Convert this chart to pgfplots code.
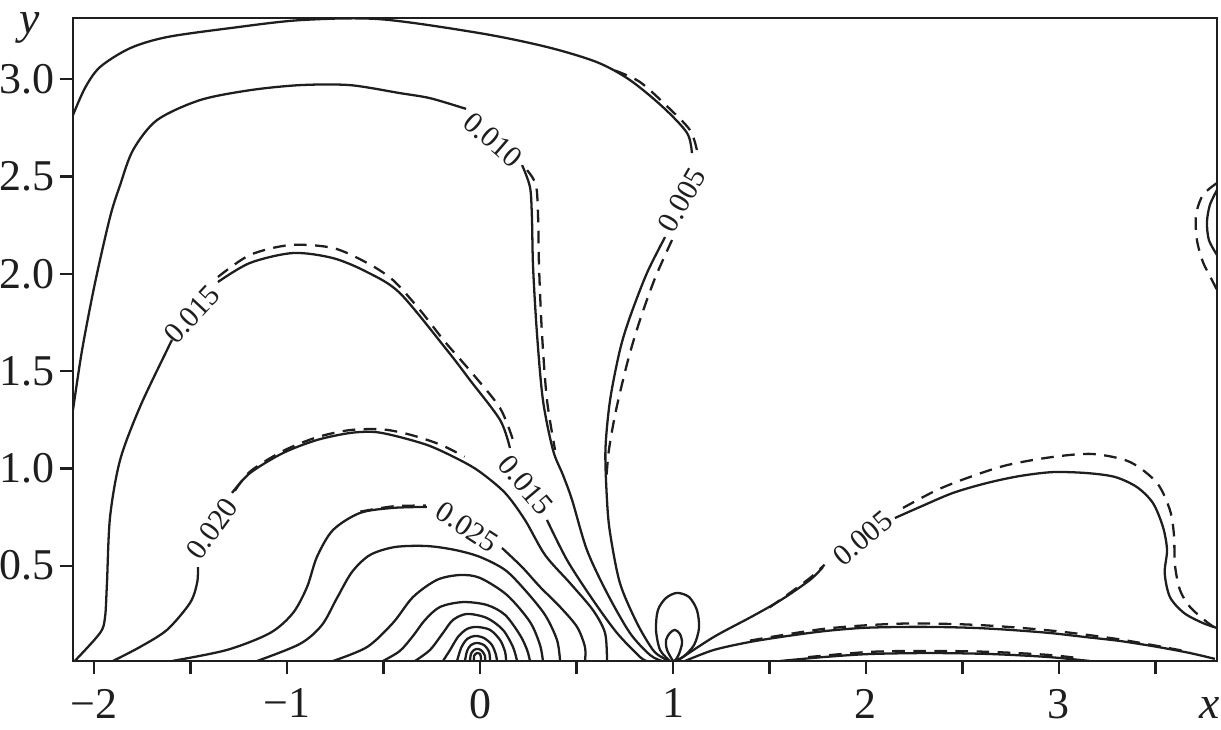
\documentclass[border=0pt]{standalone}
\usepackage{pgfplots}
\pgfplotsset{compat=1.18}
\usepackage{fontspec}
\setmainfont{Liberation Serif}
\definecolor{ink}{HTML}{1E1E1E}
\tikzset{lbl/.style={font=\fontsize{8.5}{9}\selectfont, text=ink, inner sep=0pt},
         dsh/.style={dash pattern=on 3.6pt off 2.4pt}}
\begin{document}
\begin{tikzpicture}
\path[use as bounding box] (-0.73,-0.68) rectangle (11.48,6.61);
\begin{axis}[
  width=11.44cm, height=6.43cm, scale only axis,
  xmin=-2.109, xmax=3.819, ymin=0.01, ymax=3.315,
  axis line style={line width=0.65pt, ink},
  xtick={-2,-1.5,-1,-0.5,0,0.5,1,1.5,2,2.5,3,3.5},
  xticklabels={−2,,−1,,0,,1,,2,,3,},
  ytick={0.5,1,1.5,2,2.5,3},
  yticklabels={0.5,1.0,1.5,2.0,2.5,3.0},
  tick align=outside, xtick pos=bottom, ytick pos=left,
  major tick length=0.13cm,
  tick style={line width=0.65pt, ink},
  ticklabel style={font=\fontsize{12.5}{14}\selectfont, text=ink, inner sep=1.5pt},
  xticklabel style={yshift=-0.09cm},
  clip=true,
  cycle list={{ink, solid, mark=none}},
  no markers,
  every axis plot/.append style={line width=0.65pt, ink, smooth, tension=0.5},
]
% ---------- 0.005 (outer) ----------
\addplot coordinates {(-2.109,2.816) (-2.047,2.955) (-1.969,3.063) (-1.813,3.160) (-1.622,3.217) (-1.295,3.263) (-0.933,3.304) (-0.518,3.309) (0,3.237) (0.347,3.166) (0.606,3.088) (0.777,2.996) (0.948,2.857) (1.073,2.724) (1.098,2.621)};
\addplot coordinates {(0.959,2.189) (0.865,2.004) (0.777,1.778) (0.725,1.608) (0.674,1.351) (0.650,1.095) (0.658,0.838) (0.674,0.668) (0.725,0.411) (0.813,0.206) (0.896,0.067) (0.948,0.026) (0.984,0.01)};
\addplot[dsh] coordinates {(0.70,3.045) (0.829,2.986) (0.974,2.857) (1.088,2.739) (1.124,2.636)};
\addplot[dsh] coordinates {(0.995,2.174) (0.907,1.978) (0.829,1.763) (0.767,1.557) (0.705,1.300) (0.668,1.095) (0.655,0.95)};
% ---------- 0.010 ----------
\addplot coordinates {(-2.109,1.300) (-2.062,1.608) (-1.995,1.953) (-1.917,2.292) (-1.865,2.456) (-1.798,2.636) (-1.674,2.790) (-1.451,2.893) (-1.192,2.944) (-0.933,2.970) (-0.674,2.970) (-0.415,2.929) (-0.259,2.903) (-0.085,2.852) (-0.078,2.850)};
\addplot coordinates {(0.218,2.559) (0.259,2.446) (0.269,2.292) (0.275,2.035) (0.295,1.696) (0.326,1.352) (0.378,1.095) (0.430,0.966) (0.477,0.838) (0.554,0.581) (0.658,0.360) (0.777,0.154) (0.881,0.041) (0.943,0.01)};
\addplot[dsh] coordinates {(0.244,2.533) (0.290,2.456) (0.301,2.292) (0.306,2.035) (0.321,1.696) (0.347,1.352) (0.389,1.095)};
% ---------- 0.015 ----------
\addplot coordinates {(-2.100,0.01) (-1.969,0.154) (-1.943,0.236) (-1.933,0.411) (-1.917,0.750) (-1.865,1.043) (-1.762,1.316) (-1.622,1.608) (-1.596,1.660)};
\addplot coordinates {(-1.358,1.958) (-1.192,2.056) (-0.969,2.107) (-0.762,2.081) (-0.585,2.009) (-0.415,1.901) (-0.171,1.608) (-0.052,1.454) (0.104,1.249) (0.155,1.105)};
\addplot coordinates {(0.347,0.735) (0.451,0.529) (0.585,0.324) (0.710,0.154) (0.829,0.031) (0.865,0.01)};
\addplot[dsh] coordinates {(-1.358,1.984) (-1.192,2.097) (-0.984,2.148) (-0.762,2.133) (-0.585,2.056) (-0.451,1.968) (-0.311,1.814) (-0.181,1.650) (-0.041,1.490) (0.104,1.310) (0.171,1.146)};
% ---------- 0.020 ----------
\addplot coordinates {(-1.902,0.01) (-1.762,0.082) (-1.622,0.170) (-1.503,0.308) (-1.466,0.411) (-1.461,0.493)};
\addplot coordinates {(-1.285,0.874) (-1.192,0.976) (-1.021,1.079) (-0.845,1.146) (-0.674,1.182) (-0.544,1.187) (-0.415,1.161) (-0.259,1.115) (-0.104,1.043) (0,0.982) (0.130,0.874) (0.233,0.735) (0.337,0.555) (0.466,0.411) (0.585,0.272) (0.648,0.154) (0.658,0.01)};
\addplot[dsh] coordinates {(-1.27,0.885) (-1.19,0.985) (-1.02,1.09) (-0.845,1.16) (-0.674,1.197) (-0.50,1.200) (-0.35,1.17) (-0.20,1.12) (-0.08,1.06)};
% ---------- 0.025 ----------
\addplot coordinates {(-1.596,0.01) (-1.311,0.067) (-1.088,0.154) (-0.969,0.257) (-0.896,0.391) (-0.845,0.545) (-0.762,0.683) (-0.622,0.771) (-0.451,0.797) (-0.275,0.802)};
\addplot coordinates {(0.114,0.591) (0.218,0.493) (0.311,0.391) (0.415,0.288) (0.503,0.185) (0.544,0.082) (0.544,0.01)};
\addplot[dsh] coordinates {(-0.62,0.778) (-0.45,0.805) (-0.28,0.809)};
% ---------- 0.030 ----------
\addplot coordinates {(-1.155,0.01) (-0.933,0.098) (-0.819,0.195) (-0.741,0.334) (-0.663,0.468) (-0.570,0.555) (-0.440,0.596) (-0.275,0.601) (-0.130,0.581) (0,0.545) (0.130,0.478) (0.233,0.375) (0.337,0.247) (0.399,0.118) (0.415,0.01)};
% ---------- 0.035 ----------
\addplot coordinates {(-0.762,0.01) (-0.585,0.082) (-0.451,0.206) (-0.347,0.339) (-0.223,0.427) (-0.104,0.452) (0,0.437) (0.140,0.349) (0.259,0.211) (0.311,0.092) (0.326,0.01)};
% ---------- 0.040 ----------
\addplot coordinates {(-0.503,0.01) (-0.415,0.062) (-0.347,0.139) (-0.285,0.221) (-0.207,0.288) (-0.088,0.313) (0.036,0.298) (0.130,0.247) (0.207,0.144) (0.244,0.067) (0.259,0.01)};
% ---------- 0.045 ----------
\addplot coordinates {(-0.337,0.01) (-0.259,0.067) (-0.192,0.154) (-0.140,0.221) (-0.067,0.252) (0.036,0.231) (0.119,0.170) (0.171,0.082) (0.192,0.01)};
% ---------- 0.050 ----------
\addplot coordinates {(-0.192,0.01) (-0.155,0.067) (-0.114,0.134) (-0.067,0.175) (-0.016,0.185) (0.052,0.170) (0.104,0.118) (0.130,0.057) (0.135,0.01)};
% ---------- 0.055 ----------
\addplot coordinates {(-0.119,0.01) (-0.098,0.077) (-0.067,0.123) (-0.026,0.139) (0.021,0.128) (0.062,0.092) (0.083,0.041) (0.088,0.01)};
% ---------- 0.060 ----------
\addplot coordinates {(-0.078,0.01) (-0.067,0.062) (-0.047,0.092) (-0.016,0.103) (0.021,0.092) (0.047,0.057) (0.052,0.01)};
% ---------- 0.065 ----------
\addplot coordinates {(-0.052,0.01) (-0.047,0.046) (-0.031,0.067) (-0.010,0.072) (0.010,0.062) (0.026,0.036) (0.026,0.01)};
% ---------- 0.070 ----------
\addplot coordinates {(-0.031,0.01) (-0.031,0.036) (-0.016,0.051) (0,0.046) (0.005,0.026) (0.005,0.01)};
% ---------- loops at x = 1 ----------
\addplot coordinates {(0.984,0.01) (0.933,0.067) (0.912,0.170) (0.922,0.272) (0.964,0.334) (1.021,0.360) (1.083,0.339) (1.124,0.272) (1.135,0.180) (1.109,0.092) (1.052,0.031) (1.0,0.01)};
\addplot coordinates {(1.0,0.01) (0.969,0.067) (0.964,0.118) (0.984,0.154) (1.010,0.170) (1.036,0.149) (1.047,0.103) (1.031,0.046) (1.010,0.01)};
% ---------- 0.005 lower right ----------
\addplot coordinates {(1.021,0.01) (1.212,0.134) (1.404,0.236) (1.560,0.324) (1.710,0.427) (1.777,0.493)};
\addplot coordinates {(2.150,0.745) (2.280,0.802) (2.451,0.874) (2.627,0.925) (2.798,0.961) (2.969,0.981) (3.145,0.976) (3.290,0.956) (3.404,0.904) (3.487,0.822) (3.539,0.699) (3.560,0.581) (3.548,0.462) (3.575,0.339) (3.648,0.257) (3.746,0.205) (3.819,0.180)};
\addplot[dsh] coordinates {(1.50,0.285) (1.62,0.370) (1.72,0.445) (1.785,0.505)};
\addplot[dsh] coordinates {(2.192,0.797) (2.368,0.889) (2.539,0.956) (2.731,1.017) (2.969,1.059) (3.176,1.074) (3.368,1.033) (3.508,0.925) (3.575,0.786) (3.596,0.658) (3.601,0.504) (3.627,0.375) (3.679,0.288) (3.767,0.210) (3.819,0.175)};
% ---------- lower arcs ----------
\addplot coordinates {(1.062,0.01) (1.212,0.067) (1.399,0.108) (1.596,0.139) (1.788,0.164) (1.979,0.180) (2.176,0.185) (2.363,0.185) (2.565,0.180) (2.746,0.170) (2.953,0.154) (3.130,0.134) (3.316,0.113) (3.513,0.082) (3.679,0.051) (3.808,0.021)};
\addplot[dsh] coordinates {(1.399,0.115) (1.788,0.176) (2.176,0.202) (2.565,0.196) (2.953,0.167) (3.316,0.121) (3.679,0.056)};
\addplot coordinates {(1.554,0.01) (1.788,0.031) (2.021,0.046) (2.332,0.051) (2.642,0.046) (2.938,0.031) (3.161,0.01)};
\addplot[dsh] coordinates {(1.70,0.030) (2.021,0.057) (2.332,0.062) (2.642,0.057) (2.938,0.042) (3.10,0.025)};
% ---------- small loop at right edge ----------
\addplot coordinates {(3.819,2.431) (3.782,2.354) (3.767,2.266) (3.777,2.174) (3.819,2.097)};
\addplot[dsh] coordinates {(3.819,2.467) (3.746,2.405) (3.710,2.302) (3.715,2.174) (3.746,2.061) (3.793,1.968) (3.819,1.917)};
% ---------- labels ----------
\node[lbl, rotate=60] at (axis cs:1.047,2.379) {0.005};
\node[lbl, rotate=-41] at (axis cs:0.067,2.688) {0.010};
\node[lbl, rotate=47] at (axis cs:-1.492,1.790) {0.015};
\node[lbl, rotate=-50] at (axis cs:0.238,0.915) {0.015};
\node[lbl, rotate=54] at (axis cs:-1.389,0.690) {0.020};
\node[lbl, rotate=-33] at (axis cs:-0.067,0.699) {0.025};
\node[lbl, rotate=40] at (axis cs:1.984,0.642) {0.005};
\end{axis}
\node[font=\fontsize{13}{14}\selectfont\itshape, text=ink, inner sep=0pt] at (-0.43,6.33) {y};
\node[font=\fontsize{13}{14}\selectfont\itshape, text=ink, inner sep=0pt] at (11.37,-0.47) {x};
\end{tikzpicture}
\end{document}
